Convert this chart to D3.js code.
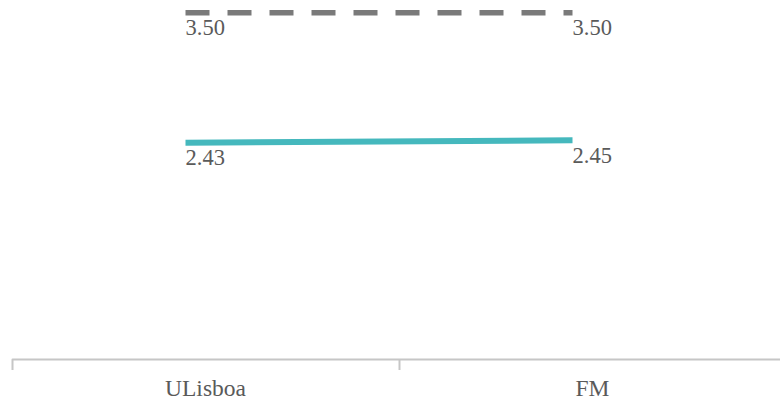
<!DOCTYPE html>
<html>
<head>
<meta charset="utf-8">
<script src="https://cdn.jsdelivr.net/npm/d3@7"></script>
<style>
  html, body { margin: 0; padding: 0; background: #fff; }
  svg { display: block; }
  text { font-family: "Liberation Serif", "Times New Roman", serif; }
</style>
</head>
<body>
<svg id="chart" width="780" height="401"></svg>
<script>
// Categories and series values
const categories = ["ULisboa", "FM"];
const referenceValues = [3.50, 3.50];
const scoreValues = [2.43, 2.45];
const valueFormat = d3.format(".2f");

const svg = d3.select("#chart");
const axisY = 359;

const x = d3.scaleBand()
  .domain(categories)
  .range([12, 786])
  .paddingInner(0)
  .paddingOuter(0);

const y = d3.scaleLinear()
  .domain([0, 3.5])
  .range([438, 12.7]);

// line points sit a little left of each band centre
const px = c => x(c) + x.bandwidth() / 2 - 20;

const series = [
  { values: referenceValues, color: "#7a7a7a", width: 5.5, dash: "24,18" },
  { values: scoreValues, color: "#45b8bd", width: 6, dash: null }
];

const line = d3.line()
  .x(d => px(d.cat))
  .y(d => y(d.v));

series.forEach(s => {
  const pts = categories.map((c, i) => ({ cat: c, v: s.values[i] }));
  svg.append("path")
    .datum(pts)
    .attr("d", line)
    .attr("fill", "none")
    .attr("stroke", s.color)
    .attr("stroke-width", s.width)
    .attr("stroke-dasharray", s.dash);

  svg.append("g")
    .selectAll("text")
    .data(pts)
    .join("text")
    .attr("x", d => px(d.cat))
    .attr("y", d => y(d.v) + 22.5)
    .attr("font-size", 22.5)
    .attr("fill", "#5a5a5a")
    .text(d => valueFormat(d.v));
});

// x axis: labels at band centres, ticks at band edges
const axis = d3.axisBottom(x)
  .tickSize(0)
  .tickSizeOuter(11)
  .tickPadding(20);

const gx = svg.append("g")
  .attr("transform", `translate(0,${axisY})`)
  .call(axis);

gx.select(".domain")
  .attr("stroke", "#c6c6c6")
  .attr("stroke-width", 2)
  .attr("stroke-linejoin", "round");

gx.selectAll(".tick line").remove();
gx.selectAll(".tick text")
  .attr("font-family", "Liberation Serif, Times New Roman, serif")
  .attr("font-size", 23.5)
  .attr("fill", "#5a5a5a");

gx.selectAll(".boundary")
  .data(categories.slice(1))
  .join("line")
  .attr("class", "boundary")
  .attr("x1", d => x(d) + 0.5)
  .attr("x2", d => x(d) + 0.5)
  .attr("y1", 0)
  .attr("y2", 11)
  .attr("stroke", "#c6c6c6")
  .attr("stroke-width", 2);
</script>
</body>
</html>
